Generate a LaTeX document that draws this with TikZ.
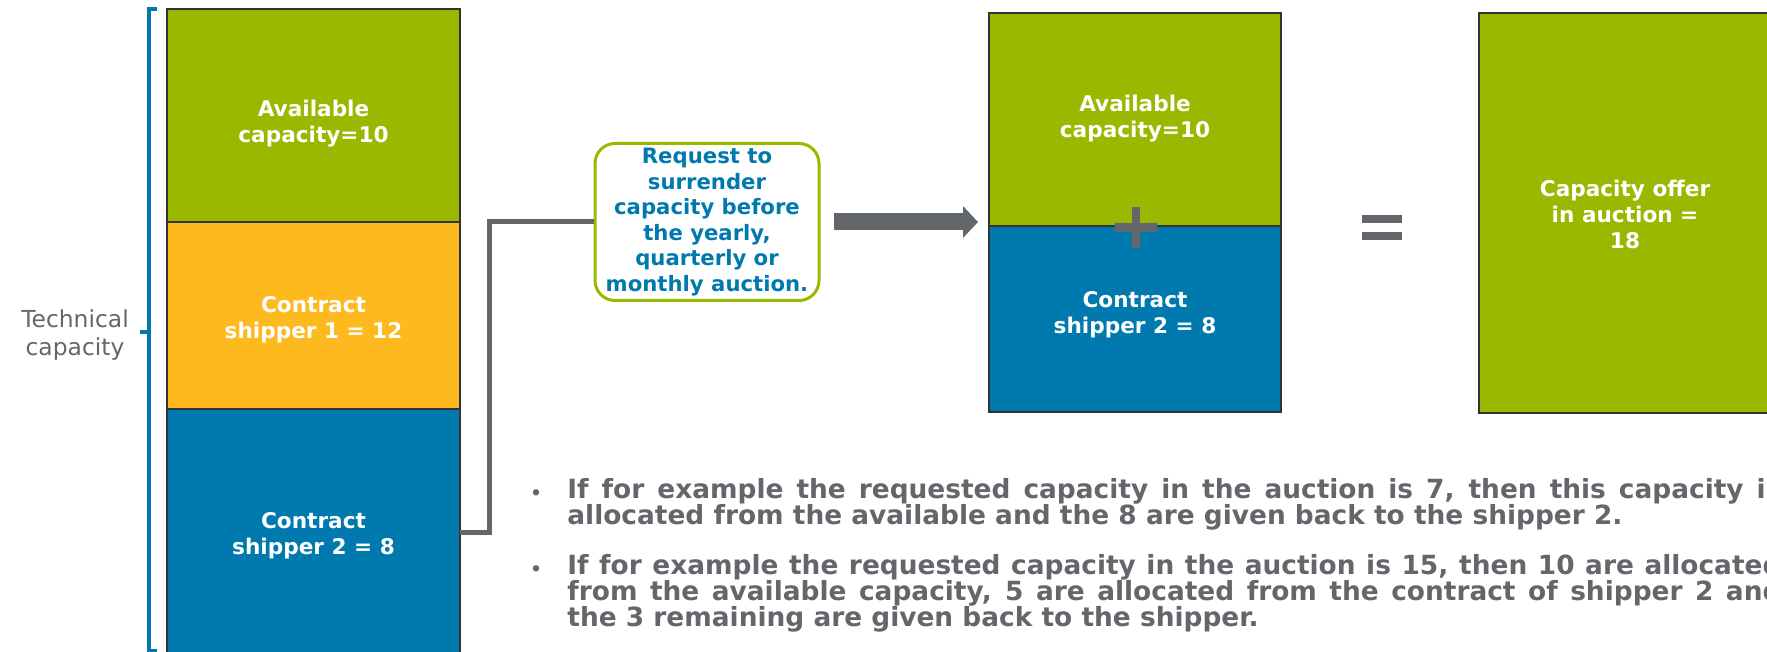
\documentclass[tikz,border=0pt]{standalone}
\usepackage{fontspec}
\setmainfont{DejaVu Sans}
\usetikzlibrary{positioning,arrows.meta}
\definecolor{capgreen}{RGB}{155,184,0}
\definecolor{capyellow}{RGB}{253,185,30}
\definecolor{capblue}{RGB}{0,121,174}
\definecolor{capgray}{RGB}{99,102,106}
\tikzset{
  capbox/.style={draw=black!80, line width=0.6pt, minimum width=146.5pt,
    inner sep=0pt, outer sep=0pt},
  boxlabel/.style={text=white, align=center, inner sep=0pt,
    font=\bfseries\fontsize{10.8}{13}\selectfont},
  reqbox/.style={draw=capgreen, line width=1.5pt, rounded corners=10pt, fill=white,
    text=capblue, align=center, font=\bfseries\fontsize{10.6}{12.8}\selectfont,
    minimum width=112pt, minimum height=78.5pt, inner sep=0pt},
  techlabel/.style={text=capgray, align=center, inner sep=0pt,
    font=\fontsize{11.7}{14}\selectfont},
  bracket/.style={draw=capblue, line width=2pt},
  link/.style={draw=capgray, line width=2.5pt},
  bigarrow/.style={draw=capgray, line width=8.5pt, -{Triangle[length=7.5pt,width=15.5pt]}},
  notes/.style={text=capgray, text width=625.5pt, align=justify, inner sep=0pt,
    font=\bfseries\fontsize{13.2}{13}\selectfont}
}
\newcommand{\notebullet}{\makebox[18.5pt][l]{\raisebox{-0.5pt}{\fontsize{9}{9}\selectfont\textbullet}}}
\begin{document}
\begin{tikzpicture}[x=0.5pt,y=-0.5pt]
  \clip (0,0) rectangle (1767,652);
  % technical capacity before surrender
  \node[capbox, fill=capgreen, minimum height=106.5pt, anchor=north west] (avail) at (167,9) {};
  \node[capbox, fill=capyellow, minimum height=93.5pt, below=0pt of avail] (ship1) {};
  \node[capbox, fill=capblue, minimum height=123pt, below=0pt of ship1] (ship2) {};
  \node[boxlabel] (availlbl) at (313.5,124) {Available\\capacity=10};
  \node[boxlabel] (ship1lbl) at (313.5,320) {Contract\\shipper 1 = 12};
  \node[boxlabel] (ship2lbl) at (313.5,536) {Contract\\shipper 2 = 8};
  \draw[bracket] (157,9) -- (149,9) -- (149,651) -- (157,651);
  \draw[bracket] (149,332) -- (140,332);
  \node[techlabel] (tech) at (75,335) {Technical\\capacity};
  % surrender request
  \node[reqbox] (req) at (707,222) {Request to\\surrender\\capacity before\\the yearly,\\quarterly or\\monthly auction.};
  \draw[link] (ship2.east) -- ++(29,0) |- (req.west);
  % offered capacity
  \node[capbox, fill=capgreen, minimum width=146pt, minimum height=106.5pt, anchor=north west] (availb) at (989,13) {};
  \node[capbox, fill=capblue, minimum width=146pt, minimum height=93pt, below=0pt of availb] (ship2b) {};
  \node[boxlabel] (availblbl) at (1135,119) {Available\\capacity=10};
  \node[boxlabel] (ship2blbl) at (1135,315) {Contract\\shipper 2 = 8};
  \draw[bigarrow] ([xshift=6.5pt]req.east) -- ([xshift=-5.5pt]req.east -| availb.west);
  \fill[capgray] (1132,207) rectangle (1140,248);
  \fill[capgray] (1115,223) rectangle (1157,232);
  \fill[capgray] (1362,215) rectangle (1402,223);
  \fill[capgray] (1362,232) rectangle (1402,240);
  \node[capbox, fill=capgreen, minimum width=146pt, minimum height=200pt, anchor=north west] (offer) at (1479,13) {};
  \node[boxlabel] (offerlbl) at (1625,214) {Capacity offer\\in auction =\\18};
  % examples
  \node[notes, anchor=north west] (examples) at (530,478) {%
    \hangindent=18.5pt\hangafter=1\noindent\notebullet If for example the requested capacity in the auction is 7, then this capacity is\linebreak allocated from the available and the 8 are given back to the shipper 2.\par
    \vspace{11.8pt}
    \hangindent=18.5pt\hangafter=1\noindent\notebullet If for example the requested capacity in the auction is 15, then 10 are allocated\linebreak from the available capacity, 5 are allocated from the contract of shipper 2 and\linebreak the 3 remaining are given back to the shipper.\par};
\end{tikzpicture}
\end{document}
